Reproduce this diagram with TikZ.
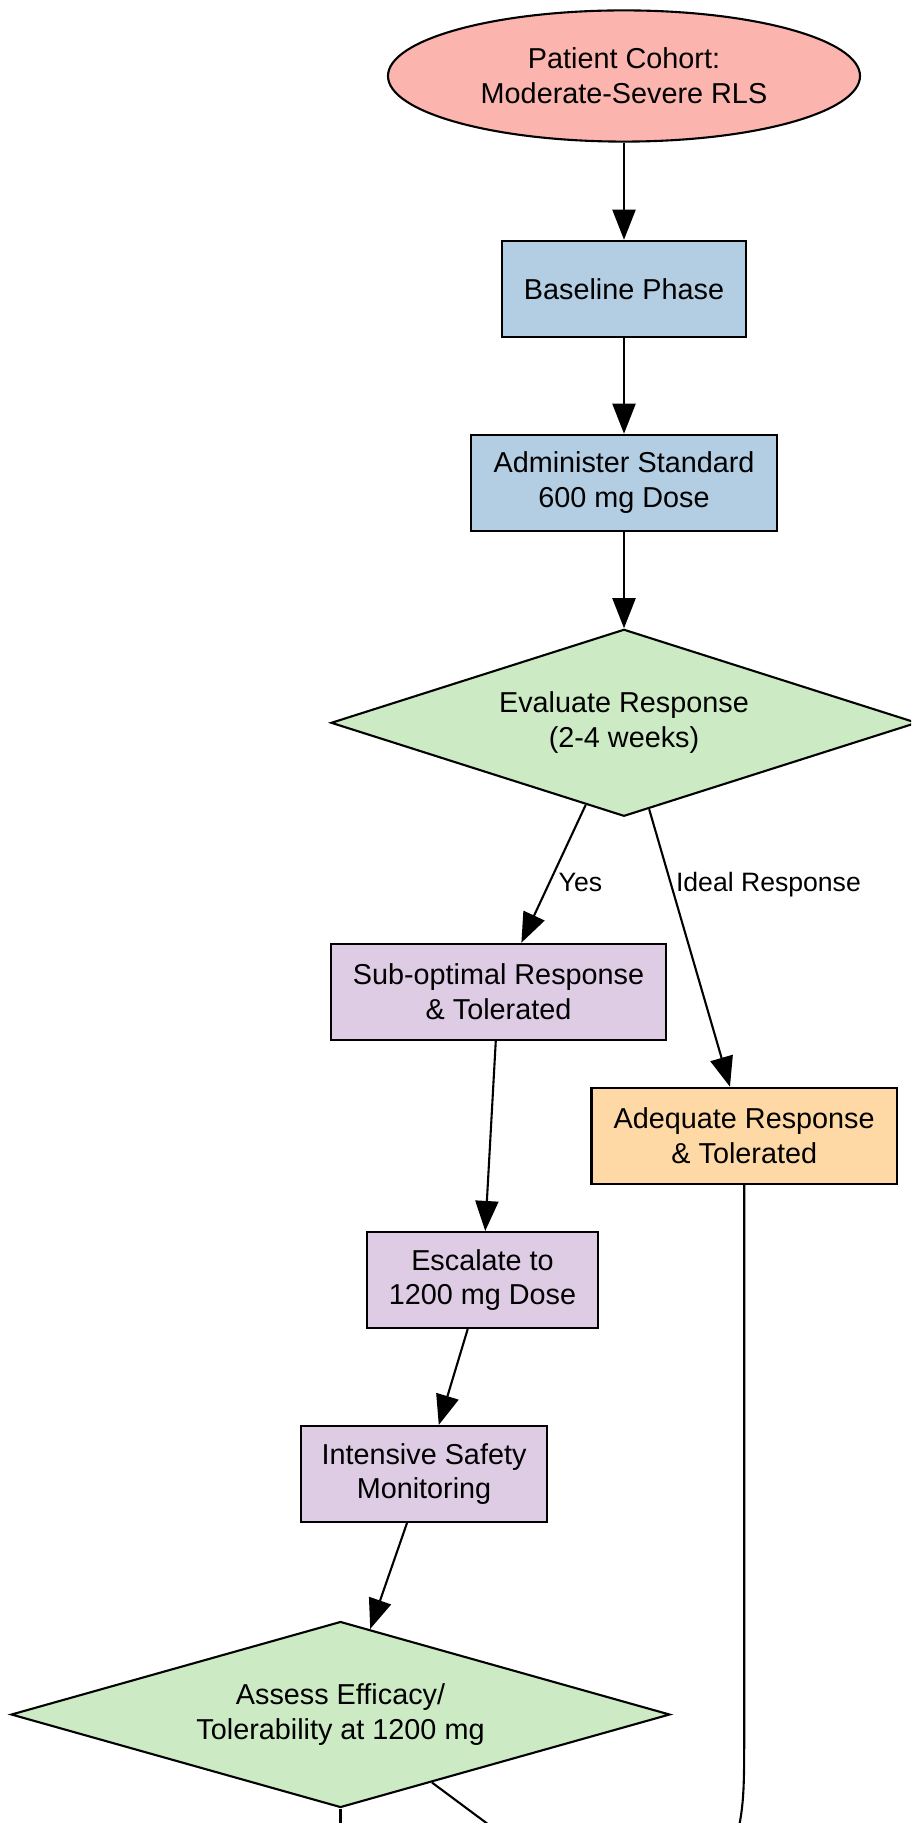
\documentclass[tikz,border=0pt]{standalone}
\usepackage{fontspec}
\setmainfont{Liberation Sans}
\usetikzlibrary{shapes.geometric,arrows.meta}
\definecolor{pred}{HTML}{FBB4AE}
\definecolor{pblue}{HTML}{B3CDE3}
\definecolor{pgreen}{HTML}{CCEBC5}
\definecolor{ppurple}{HTML}{DECBE4}
\definecolor{porange}{HTML}{FED9A6}
\begin{document}
\begin{tikzpicture}[x=0.5pt,y=-0.5pt,
  every node/.style={font=\fontsize{14.4}{17.4}\selectfont, align=center, text=black},
  box/.style={draw, line width=1.05pt, rectangle, minimum height=48pt, inner sep=0pt},
  dec/.style={draw, line width=1.05pt, diamond, fill=pgreen, inner sep=0pt},
  conn/.style={line width=1.05pt, -{Triangle[length=15pt,width=11.5pt]}},
  plain/.style={line width=1.05pt},
  lbl/.style={font=\fontsize{13.3}{15.5}\selectfont, anchor=west, inner sep=1.5pt}
]
\useasboundingbox (0,0) rectangle (911,1823);
\clip (0,0) rectangle (911,1823);

\node[draw, line width=1.05pt, ellipse, fill=pred, minimum width=236pt, minimum height=65.6pt, inner sep=0pt] (cohort) at (624,76) {Patient Cohort:\\Moderate-Severe RLS};
\node[box, fill=pblue, minimum width=122pt] (baseline) at (624,288.8) {Baseline Phase};
\node[box, fill=pblue, minimum width=152.7pt] (admin) at (624,482.8) {Administer Standard\\600 mg Dose};
\node[dec, aspect=3.134, minimum width=293pt, minimum height=93.5pt] (eval) at (624,722.8) {Evaluate Response\\(2-4 weeks)};
\node[box, fill=ppurple, minimum width=167.5pt] (subopt) at (498.5,991.8) {Sub-optimal Response\\\& Tolerated};
\node[box, fill=porange, minimum width=152.7pt] (adequate) at (744.2,1135.8) {Adequate Response\\\& Tolerated};
\node[box, fill=ppurple, minimum width=115.5pt] (escalate) at (482.5,1280) {Escalate to\\1200 mg Dose};
\node[box, fill=ppurple, minimum width=123pt] (intensive) at (424,1474) {Intensive Safety\\Monitoring};
\node[dec, aspect=3.542, minimum width=329.4pt, minimum height=93pt] (assess) at (340.5,1714.5) {Assess Efficacy/\\Tolerability at 1200 mg};

\coordinate (bend) at (744.2,1730);
\coordinate (offC) at (718.9,1900);
\coordinate (offA) at (340.5,1900);
\coordinate (offB) at (603.7,1910.2);

\draw[conn] (cohort) -- (baseline);
\draw[conn] (baseline) -- (admin);
\draw[conn] (admin) -- (eval);
\draw[conn] (eval) -- node[lbl, pos=0.56, xshift=2.5pt] {Yes} (subopt);
\draw[conn] (eval) -- node[lbl, pos=0.27, xshift=0.5pt] {Ideal Response} (adequate);
\draw[conn] (subopt) -- (escalate);
\draw[conn] (escalate) -- (intensive);
\draw[conn] (intensive) -- (assess);
\draw[plain] (adequate.south) -- (bend) .. controls (744.2,1815) .. (offC);
\draw[plain] (assess) -- (offA);
\draw[plain] (assess) -- (offB);
\end{tikzpicture}
\end{document}
